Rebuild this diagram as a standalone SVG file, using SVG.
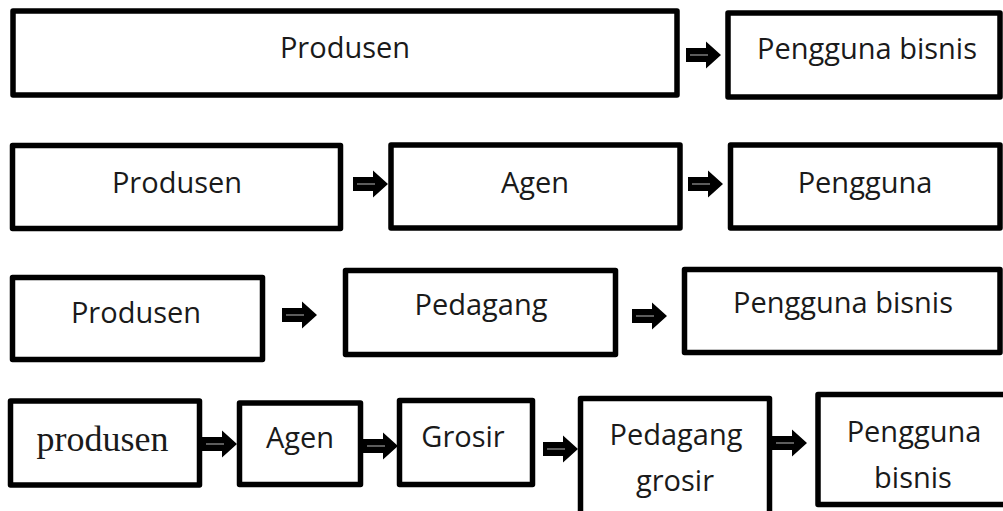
<svg xmlns="http://www.w3.org/2000/svg" xmlns:xlink="http://www.w3.org/1999/xlink" width="1003" height="511" viewBox="0 0 1003 511">
<style>
.box{fill:#fff;stroke:#000;stroke-width:5.5;stroke-linejoin:round}
.t{font-family:"Open Sans","Noto Sans","DejaVu Sans",sans-serif;font-size:29px;fill:#1a1a1a;text-anchor:middle}
.s{font-family:"Liberation Serif","Times New Roman",serif;font-size:36px;fill:#1a1a1a;text-anchor:middle}
</style>
<defs>
<g id="arr">
<path d="M0,-7 H20 V-13.5 L35,0 L20,13.5 V7 H0 Z" fill="#000"/>
<line x1="4" y1="0" x2="22" y2="0" stroke="#9a9a9a" stroke-width="1.2"/>
</g>
</defs>
<rect width="1003" height="511" fill="#fff"/>
<g id="connectors">
<use xlink:href="#arr" transform="translate(686,55)"/>
<use xlink:href="#arr" transform="translate(353,184)"/>
<use xlink:href="#arr" transform="translate(688,184)"/>
<use xlink:href="#arr" transform="translate(282,315)"/>
<use xlink:href="#arr" transform="translate(632,316)"/>
<use xlink:href="#arr" transform="translate(202,444)"/>
<use xlink:href="#arr" transform="translate(363,446)"/>
<use xlink:href="#arr" transform="translate(543,449)"/>
<use xlink:href="#arr" transform="translate(772,443)"/>
</g>
<g id="r1-produsen"><rect class="box" x="13" y="11" width="664" height="84"/><text class="t" x="345" y="58">Produsen</text></g>
<g id="r1-pengguna"><rect class="box" x="728" y="13" width="272" height="84"/><text class="t" x="867" y="59">Pengguna bisnis</text></g>
<g id="r2-produsen"><rect class="box" x="12.5" y="145.5" width="328" height="83"/><text class="t" x="177" y="193">Produsen</text></g>
<g id="r2-agen"><rect class="box" x="391" y="145" width="289" height="83"/><text class="t" x="535" y="193">Agen</text></g>
<g id="r2-pengguna"><rect class="box" x="730.5" y="145" width="269.5" height="83"/><text class="t" x="865" y="193">Pengguna</text></g>
<g id="r3-produsen"><rect class="box" x="12.5" y="277.5" width="250" height="82"/><text class="t" x="136" y="323">Produsen</text></g>
<g id="r3-pedagang"><rect class="box" x="345.5" y="270.5" width="270" height="84"/><text class="t" x="481" y="315">Pedagang</text></g>
<g id="r3-pengguna"><rect class="box" x="684.5" y="269.5" width="315.5" height="83"/><text class="t" x="843" y="313">Pengguna bisnis</text></g>
<g id="r4-produsen"><rect class="box" x="10.5" y="401" width="189" height="84"/><text class="s" x="102.5" y="451">produsen</text></g>
<g id="r4-agen"><rect class="box" x="239.5" y="403" width="121" height="81.5"/><text class="t" x="300" y="448">Agen</text></g>
<g id="r4-grosir"><rect class="box" x="399.5" y="400.5" width="133" height="84"/><text class="t" x="463" y="447">Grosir</text></g>
<g id="r4-pedagang-grosir"><rect class="box" x="580.5" y="398.5" width="189" height="130"/><text class="t" x="676" y="445">Pedagang</text><text class="t" x="675" y="491">grosir</text></g>
<g id="r4-pengguna"><rect class="box" x="818" y="394.5" width="200" height="110"/><text class="t" x="914" y="442">Pengguna</text><text class="t" x="913" y="488">bisnis</text></g>
</svg>
